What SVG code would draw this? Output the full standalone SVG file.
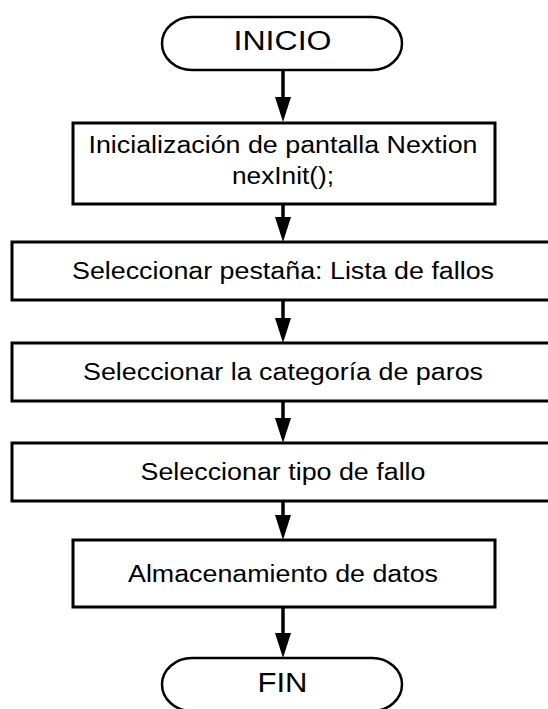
<svg xmlns="http://www.w3.org/2000/svg" width="548" height="709" viewBox="0 0 548 709">
<style>
.box{fill:#fff;stroke:#000;stroke-width:3}
.term{fill:#fff;stroke:#000;stroke-width:2.5}
.t{font-family:"Liberation Sans",Arial,sans-serif;font-size:23.5px;fill:#000;text-anchor:middle}
.tt{font-family:"Liberation Sans",Arial,sans-serif;font-size:27px;fill:#000;text-anchor:middle}
.c{fill:none;stroke:#000;stroke-width:3.5;marker-end:url(#ah)}
</style>
<defs>
<marker id="ah" markerUnits="userSpaceOnUse" markerWidth="25" markerHeight="16" refX="2" refY="8" orient="auto">
<path d="M0,0 L25,8 L0,16 z" fill="#000"/>
</marker>
</defs>
<rect width="548" height="709" fill="#fff"/>
<g id="connectors">
<path class="c" d="M283,70 V99"/>
<path class="c" d="M283,204 V219"/>
<path class="c" d="M283,300 V320"/>
<path class="c" d="M283,401 V420"/>
<path class="c" d="M283,501 V517"/>
<path class="c" d="M283,607 V635"/>
</g>
<g id="inicio">
<rect class="term" x="162" y="17" width="240" height="53" rx="30" ry="26.5"/>
<text class="tt" x="282.5" y="50" textLength="98" lengthAdjust="spacingAndGlyphs">INICIO</text>
</g>
<g id="init">
<rect class="box" x="73" y="123" width="422" height="81"/>
<text class="t" x="283" y="153" textLength="389" lengthAdjust="spacingAndGlyphs">Inicialización de pantalla Nextion</text>
<text class="t" x="283" y="184" textLength="102" lengthAdjust="spacingAndGlyphs">nexInit();</text>
</g>
<g id="pestana">
<rect class="box" x="12" y="242" width="544" height="58"/>
<text class="t" x="283" y="279" textLength="422" lengthAdjust="spacingAndGlyphs">Seleccionar pestaña: Lista de fallos</text>
</g>
<g id="categoria">
<rect class="box" x="12" y="343" width="544" height="58"/>
<text class="t" x="283" y="380" textLength="400" lengthAdjust="spacingAndGlyphs">Seleccionar la categoría de paros</text>
</g>
<g id="tipo">
<rect class="box" x="12" y="443" width="544" height="58"/>
<text class="t" x="283" y="480" textLength="285" lengthAdjust="spacingAndGlyphs">Seleccionar tipo de fallo</text>
</g>
<g id="almacenamiento">
<rect class="box" x="73" y="540" width="422" height="67"/>
<text class="t" x="283" y="582" textLength="310" lengthAdjust="spacingAndGlyphs">Almacenamiento de datos</text>
</g>
<g id="fin">
<rect class="term" x="162" y="658" width="240" height="53" rx="30" ry="26.5"/>
<text class="tt" x="282.5" y="692" textLength="50" lengthAdjust="spacingAndGlyphs">FIN</text>
</g>
</svg>
